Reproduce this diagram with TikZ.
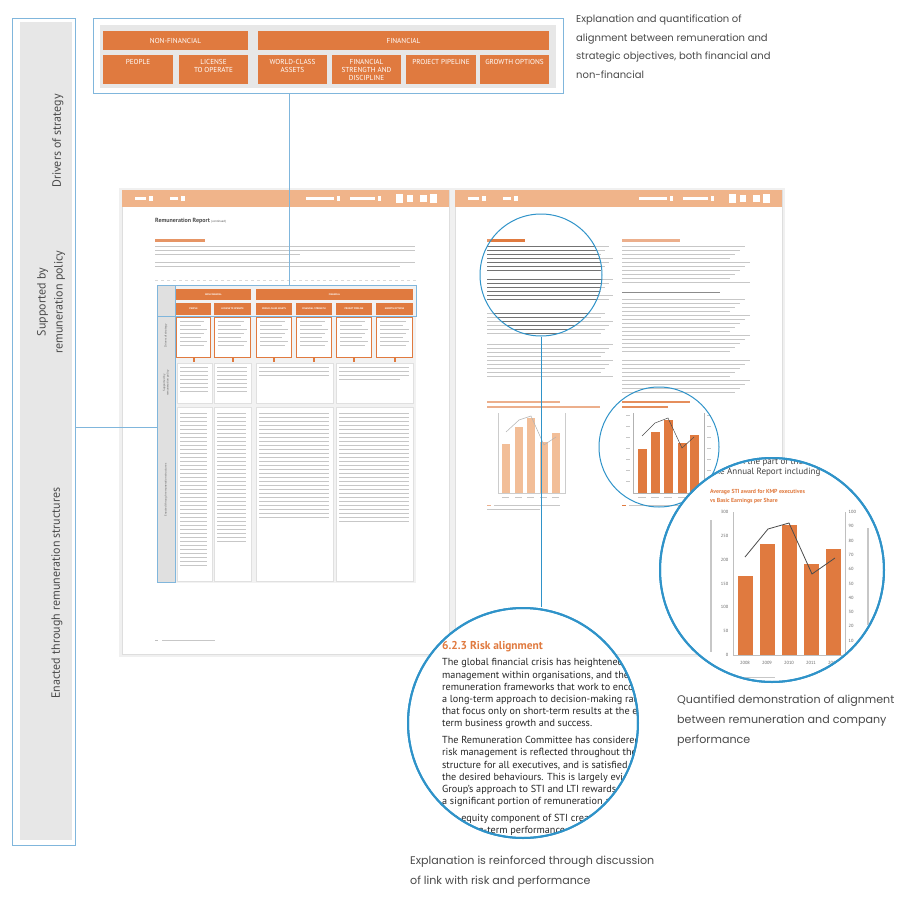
\documentclass[tikz,border=0pt]{standalone}
\usepackage{fontspec}
\setmainfont{PT Sans}
\newfontfamily\capfont{Poppins}
\definecolor{org}{HTML}{E07A3F}
\definecolor{lorg}{HTML}{F0B48A}
\definecolor{barl}{HTML}{F2BE98}
\definecolor{blu}{HTML}{80B6DC}
\definecolor{cblu}{HTML}{2F93C9}
\definecolor{sgray}{HTML}{E7E7E7}
\definecolor{tgray}{HTML}{4A4A4A}
\begin{document}
\begin{tikzpicture}[x=1pt,y=-1pt,
  conn/.style={draw=blu,line width=0.9pt},
  ocell/.style={fill=org,draw=none,inner sep=0pt},
  otext/.style={inner sep=0pt,text=white,font=\fontsize{7.2}{8.2}\selectfont,align=center},
  mcell/.style={fill=org,draw=none,inner sep=0pt,text=white,font=\bfseries\fontsize{2.4}{2.8}\selectfont,align=center},
  greek/.style={fill=black!22},
  greekd/.style={fill=black!55},
  caption/.style={font=\capfont\fontsize{10}{18.5}\selectfont,text=tgray,align=left,inner sep=0pt},
  captionb/.style={font=\capfont\fontsize{11.1}{20}\selectfont,text=tgray,align=left,inner sep=0pt},
  sidetext/.style={rotate=90,font=\fontsize{12}{17}\selectfont,text=tgray,align=center,inner sep=0pt},
  bigcirc/.style={circle,draw=cblu,line width=2pt,fill=white,inner sep=0pt},
  smallcirc/.style={circle,draw=cblu,line width=1pt,inner sep=0pt},
  tick/.style={font=\fontsize{4.5}{5}\selectfont,text=black!60,inner sep=0.5pt}]
\useasboundingbox (0,0) rectangle (911,897);
\fill[white] (0,0) rectangle (911,897);

% ---------- sidebar ----------
\node[draw=blu,line width=1pt,minimum width=63pt,minimum height=827pt,inner sep=0pt] (sb) at (43.5,432) {};
\fill[sgray] (20,22) rectangle (72,840);
\node[sidetext] (l1) at (58,141) {Drivers of strategy};
\node[sidetext] (l2) at (51,302) {Supported by\\remuneration policy};
\node[sidetext] (l3) at (57,593) {Enacted through remuneration structures};

% ---------- top box ----------
\node[draw=blu,line width=1pt,minimum width=470pt,minimum height=75pt,inner sep=0pt] (tb) at (328,55.5) {};
\fill[sgray] (100,25) rectangle (556,88);
\node[ocell,minimum width=145pt,minimum height=19pt] (nf) at (175.5,40.5) {};
\node[ocell,minimum width=291pt,minimum height=19pt] (fi) at (403.5,40.5) {};
\node[otext] at (nf) {NON-FINANCIAL};
\node[otext] at (fi) {FINANCIAL};
\node[ocell,minimum width=70pt,minimum height=29pt] (c1) at (138,69.5) {};
\node[ocell,minimum width=69pt,minimum height=29pt] (c2) at (213.5,69.5) {};
\node[ocell,minimum width=69pt,minimum height=29pt] (c3) at (292.5,69.5) {};
\node[ocell,minimum width=69pt,minimum height=29pt] (c4) at (366.5,69.5) {};
\node[ocell,minimum width=70pt,minimum height=29pt] (c5) at (441,69.5) {};
\node[ocell,minimum width=69pt,minimum height=29pt] (c6) at (514.5,69.5) {};
\node[otext,anchor=north] at (138,59) {PEOPLE};
\node[otext,anchor=north] at (213.5,59) {LICENSE\\TO OPERATE};
\node[otext,anchor=north] at (292.5,59) {WORLD-CLASS\\ASSETS};
\node[otext,anchor=north] at (366.5,59) {FINANCIAL\\STRENGTH AND\\DISCIPLINE};
\node[otext,anchor=north] at (441,59) {PROJECT PIPELINE};
\node[otext,anchor=north] at (514.5,59) {GROWTH OPTIONS};

\node[caption,anchor=north west] (cap1) at (576,15) {Explanation and quantification of\\alignment between remuneration and\\strategic objectives, both financial and\\non-financial};

% ---------- pages ----------
\fill[black!6] (119,188) rectangle (452,657);
\fill[black!6] (452,188) rectangle (785,657);
\node[fill=white,draw=black!13,line width=0.5pt,minimum width=327pt,minimum height=464pt,inner sep=0pt] (lp) at (285.5,422) {};
\node[fill=white,draw=black!13,line width=0.5pt,minimum width=327pt,minimum height=464pt,inner sep=0pt] (rp) at (618.5,422) {};
\fill[lorg] (122,190) rectangle (449,207);
\fill[lorg] (455,190) rectangle (782,207);
% header greek icons
\foreach \px in {0,333}{
  \fill[white] (135+\px,197) rectangle (146+\px,200);
  \fill[white] (149+\px,196) rectangle (153+\px,201);
  \fill[white] (170+\px,197) rectangle (178+\px,200);
  \fill[white] (181+\px,196) rectangle (185+\px,201);
  \fill[white] (306+\px,197) rectangle (334+\px,200);
  \fill[white] (337+\px,196) rectangle (340+\px,201);
  \fill[white] (350+\px,197) rectangle (375+\px,200);
  \fill[white] (378+\px,196) rectangle (381+\px,201);
  \fill[white] (396+\px,194) rectangle (403+\px,203);
  \fill[white] (407+\px,195) rectangle (413+\px,202);
  \fill[white] (420+\px,195) rectangle (427+\px,202);
  \fill[white] (430+\px,194) rectangle (437+\px,203);
}

% left page text
\node[anchor=west,font=\bfseries\fontsize{6}{7}\selectfont,text=black!70,inner sep=0pt] (lt) at (155,221) {Remuneration Report {\mdseries\fontsize{3}{4}\selectfont(continued)}};
\fill[org!80] (155,239.3) rectangle (205,241.5);
\foreach \y/\w in {246/415,250/415,254/300,262/415,266/400}{\fill[greek] (155,\y) rectangle (\w,\y+1.4);}
\draw[black!15,dashed,line width=0.4pt] (155,280) -- (416,280);

% mini table
\fill[black!5] (175,285) rectangle (416,583);
\fill[black!12] (157,285) rectangle (175,582);
\node[mcell,minimum width=75pt,minimum height=11pt] (mnf) at (213.5,294.5) {NON-FINANCIAL};
\node[mcell,minimum width=157pt,minimum height=11pt] (mfi) at (334.5,294.5) {FINANCIAL};
\foreach \a/\b/\t in {176/211/PEOPLE,214/251/LICENSE TO OPERATE,256/292/WORLD-CLASS ASSETS,296/332/FINANCIAL STRENGTH,336/372/PROJECT PIPELINE,376/413/GROWTH OPTIONS}{
  \node[mcell,minimum width={\b-\a},minimum height=12pt] at ({(\a+\b)/2},308.5) {\t};
  \draw[org,fill=white,line width=0.8pt] (\a+0.6,317) rectangle (\b-0.6,357);
  \foreach \y [count=\k] in {321,325,329,333,337,341,345}{\pgfmathsetmacro\ee{\b-4-mod(\k,3)*3}\fill[greek] (\a+4,\y) rectangle (\ee,\y+1.1);}
  \fill[org] ({(\a+\b)/2-1},358) rectangle ({(\a+\b)/2+1},362);
}
\foreach \a/\b in {177/212,214/251,256/333,336/413}{
  \draw[black!12,fill=white,line width=0.4pt] (\a,363) rectangle (\b,403);
  \draw[black!12,fill=white,line width=0.4pt] (\a,407) rectangle (\b,581);
}
\foreach \y in {367,371,375,379,383,387,391}{
  \fill[greek] (180,\y) rectangle (208,\y+1.1);
  \fill[greek] (217,\y) rectangle (247,\y+1.1);
}
\foreach \y in {367,371,375}{
  \fill[greek] (259,\y) rectangle (329,\y+1.1);
  \fill[greek] (339,\y) rectangle (409,\y+1.1);
}
\fill[greek] (339,379) rectangle (400,380.1);
\foreach \y in {413,417,...,565}{\fill[greek] (180,\y) rectangle (207,\y+1.1);}
\foreach \y in {413,417,...,541}{\fill[greek] (217,\y) rectangle (246,\y+1.1);}
\foreach \y in {413,417,...,517}{\fill[greek] (259,\y) rectangle (329,\y+1.1);}
\foreach \y in {413,417,...,521}{\fill[greek] (339,\y) rectangle (409,\y+1.1);}
\node[draw=blu,line width=0.9pt,minimum width=259pt,minimum height=31pt,inner sep=0pt] (mtb) at (286.5,300.5) {};
\node[draw=blu,line width=0.9pt,minimum width=18pt,minimum height=297pt,inner sep=0pt] (msb) at (166,433.5) {};
\node[rotate=90,font=\fontsize{3}{3.5}\selectfont,text=black!60] at (166,336) {Drivers of strategy};
\node[rotate=90,font=\fontsize{3}{3.5}\selectfont,text=black!60,align=center] at (166,383) {Supported by\\remuneration policy};
\node[rotate=90,font=\fontsize{3}{3.5}\selectfont,text=black!60] at (166,490) {Enacted through remuneration structures};
\fill[black!25] (155,640) rectangle (158,641);
\fill[greek] (162,640) rectangle (215,641);

% right page text
\fill[org!80] (487,239.3) rectangle (525,241.5);
\fill[org!60] (622,239.3) rectangle (680,241.5);
\foreach \y [count=\k] in {246,250,...,270, 279,283,...,299, 313,317,...,333, 344,348,...,376}{\pgfmathsetmacro\ee{613-mod(\k,4)*4}\fill[greek] (487,\y) rectangle (\ee,\y+1.3);}
\foreach \y [count=\k] in {246,250,...,282, 299,303,...,351, 360,364,...,392}{\pgfmathsetmacro\ee{750-mod(\k,5)*5}\fill[greek] (622,\y) rectangle (\ee,\y+1.3);}
\fill[black!45] (622,291.5) rectangle (720,293);
% dark text inside small circle
\begin{scope}
\clip (541,275) circle[radius=61pt];
\foreach \y [count=\k] in {246,250,...,270, 279,283,...,299, 313,317,...,333}{\pgfmathsetmacro\ee{613-mod(\k,4)*4}\fill[greekd] (487,\y) rectangle (\ee,\y+1.3);}
\fill[org] (487,239.3) rectangle (525,241.8);
\end{scope}

% left chart (light)
\fill[org!60] (487,401) rectangle (560,402.5);
\fill[org!60] (487,406) rectangle (600,407.5);
\draw[black!20,line width=0.4pt] (498,413) -- (498,493) -- (565,493) -- (565,413);
\foreach \a/\t in {502/444,515/427,527/418,540/442,552/433}{\fill[barl] (\a,\t) rectangle (\a+8,493);}
\draw[black!30,line width=0.5pt] (506,432) -- (519,420) -- (531,416) -- (544,445) -- (556,437);
\foreach \x in {502,515,527,540,552}{\fill[greek] (\x,497) rectangle (\x+7,498);}
\fill[org!60] (487,504.5) rectangle (491,505.5);
\fill[greek] (494,504.5) rectangle (560,505.5);
\fill[greek] (487,508.5) rectangle (540,509.5);

% right chart (dark, in small circle)
\fill[org!85] (622,401) rectangle (690,402.5);
\fill[org!85] (622,406) rectangle (668,407.5);
\draw[black!30,line width=0.4pt] (633,413) -- (633,493) -- (704,493) -- (704,413);
\foreach \a/\t in {638/449,651/432,664/420,678/443,690/435}{\fill[org] (\a,\t) rectangle (\a+9,493);}
\draw[black!70,line width=0.5pt] (642,436) -- (655,423) -- (668,418) -- (682,448) -- (694,437);
\foreach \y in {415,426,...,490}{\fill[greek] (626,\y) rectangle (630,\y+1);\fill[greek] (707,\y) rectangle (711,\y+1);}
\foreach \x in {638,651,664,678,690}{\fill[greek] (\x,497) rectangle (\x+8,498);}
\fill[org] (622,504.5) rectangle (626,505.5);
\fill[greek] (629,504.5) rectangle (690,505.5);

% small circles
\node[smallcirc,minimum size=122pt] (sc1) at (541,275) {};
\node[smallcirc,minimum size=120pt] (sc2) at (659,447) {};

% connectors
\coordinate (mt) at (289,285);
\draw[conn] (tb.south -| mt) -- (mt);
\coordinate (mc) at (157,427);
\draw[conn] (sb.east |- mc) -- (mc);

% ---------- bottom big circle ----------
\node[bigcirc,minimum size=230pt] (bc) at (523,723) {};
\draw[conn,draw=cblu,line width=1pt] (sc1.south) -- (sc1.south |- bc.north);
\begin{scope}
\clip (523,723) circle[radius=114pt];
\node[anchor=west,inner sep=0pt,font=\bfseries\fontsize{11.4}{12}\selectfont,text=org] (rh) at (442,647) {6.2.3 Risk alignment};
\node[anchor=north west,inner sep=0pt,align=left,font=\fontsize{10.2}{12.2}\selectfont,text=black!85] (rt) at (442,658.5) {The global financial crisis has heightened the focus on risk\\management within organisations, and the need for\\remuneration frameworks that work to encourage\\a long-term approach to decision-making rather than those\\that focus only on short-term results at the expense of long-\\term business growth and success.\\[4.5pt]The Remuneration Committee has considered how\\risk management is reflected throughout the remuneration\\structure for all executives, and is satisfied that it promotes\\the desired behaviours. This is largely evident in the\\Group's approach to STI and LTI rewards, which place\\a significant portion of remuneration at risk.\\[4.5pt]The equity component of STI creates an alignment\\with long-term performance and shareholder value};
\end{scope}
\draw[cblu,line width=2pt] (bc) circle[radius=115pt];

% ---------- right big circle ----------
\node[bigcirc,minimum size=224pt] (bc2) at (772,570) {};
\begin{scope}
\clip (772,570) circle[radius=111pt];
\node[anchor=west,inner sep=0pt,font=\fontsize{9}{10}\selectfont,text=black!75] at (712,462) {between the part of the};
\node[anchor=west,inner sep=0pt,font=\fontsize{9}{10}\selectfont,text=black!75] at (712,472) {the Annual Report including};
\node[anchor=west,inner sep=0pt,font=\bfseries\fontsize{5.8}{7}\selectfont,text=org] at (710,492.5) {Average STI award for KMP executives};
\node[anchor=west,inner sep=0pt,font=\bfseries\fontsize{5.8}{7}\selectfont,text=org] at (710,501) {vs Basic Earnings per Share};
\draw[black!25,line width=0.6pt] (733,512) -- (733,655) -- (845,655);
\draw[black!25,line width=0.6pt] (845,512) -- (845,655);
\foreach \v [count=\i from 0] in {0,50,100,150,200,250,300}{\node[tick,anchor=east] at (729,655-\i*23.8) {\v};}
\foreach \v [count=\i from 0] in {0,10,20,30,40,50,60,70,80,90,100}{\node[tick,anchor=west] at (848,655-\i*14.3) {\v};}
\foreach \a/\t in {738/576,760/544,782/525,804/564,826/549}{\fill[org] (\a,\t) rectangle (\a+15,655);}
\draw[black!70,line width=0.8pt] (745,557) -- (768,529) -- (789,523) -- (812,574) -- (835,558);
\foreach \x/\yr in {745/2008,767/2009,789/2010,811/2011,833/2012}{\node[tick] at (\x,663) {\yr};}
\fill[greek] (710,520) rectangle (711.5,652);
\fill[greek] (867,528) rectangle (868.5,625);
\fill[org] (735,677) rectangle (739,678);
\fill[greek] (742,677) rectangle (775,678);
\end{scope}
\draw[cblu,line width=2pt] (bc2) circle[radius=112pt];

% captions
\node[captionb,anchor=north west] (cap2) at (677,695) {Quantified demonstration of alignment\\between remuneration and company\\performance};
\node[captionb,anchor=north west] (cap3) at (410,856) {Explanation is reinforced through discussion\\of link with risk and performance};
\end{tikzpicture}
\end{document}
